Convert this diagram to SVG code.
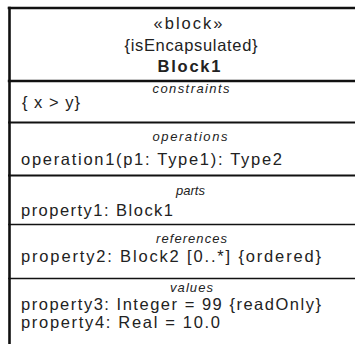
<svg xmlns="http://www.w3.org/2000/svg" width="355" height="344" viewBox="0 0 355 344">
<style>
.frame{stroke:#111;fill:none;stroke-linecap:square}
.t{font-family:"Liberation Sans",Arial,sans-serif;font-size:16.5px;fill:#222}
.hd{text-anchor:middle}
.b{font-weight:bold}
.lbl{font-family:"Liberation Sans",Arial,sans-serif;font-size:13px;font-style:italic;fill:#222;text-anchor:middle}
</style>
<rect width="355" height="344" fill="#fff"/>
<g id="block1">
  <line class="frame" x1="9.5" y1="8" x2="9.5" y2="344" stroke-width="2.6"/>
  <line class="frame" x1="9" y1="8" x2="355" y2="8" stroke-width="2.6"/>
  <line class="frame" x1="9" y1="81" x2="355" y2="81" stroke-width="2.4"/>
  <line class="frame" x1="9" y1="122.5" x2="355" y2="122.5" stroke-width="1.8"/>
  <line class="frame" x1="9" y1="175.5" x2="355" y2="175.5" stroke-width="2"/>
  <line class="frame" x1="9" y1="224.5" x2="355" y2="224.5" stroke-width="1.6"/>
  <line class="frame" x1="9" y1="278.5" x2="355" y2="278.5" stroke-width="1.6"/>
  <g id="header">
    <text class="t hd" x="188" y="29" textLength="69" lengthAdjust="spacing">«block»</text>
    <text class="t hd" x="191" y="51" textLength="133" lengthAdjust="spacing">{isEncapsulated}</text>
    <text class="t hd b" x="189" y="72" textLength="63" lengthAdjust="spacing">Block1</text>
  </g>
  <g id="constraints">
    <text class="lbl" x="191" y="93" textLength="77" lengthAdjust="spacing">constraints</text>
    <text class="t" x="22" y="108" textLength="58" lengthAdjust="spacing">{ x &gt; y}</text>
  </g>
  <g id="operations">
    <text class="lbl" x="190" y="141" textLength="75" lengthAdjust="spacing">operations</text>
    <text class="t" x="21" y="164.5" textLength="261" lengthAdjust="spacing">operation1(p1: Type1): Type2</text>
  </g>
  <g id="parts">
    <text class="lbl" x="190.5" y="195" textLength="29" lengthAdjust="spacing">parts</text>
    <text class="t" x="21" y="216" textLength="152" lengthAdjust="spacing">property1: Block1</text>
  </g>
  <g id="references">
    <text class="lbl" x="191.5" y="242.5" textLength="71" lengthAdjust="spacing">references</text>
    <text class="t" x="21" y="261.5" textLength="300" lengthAdjust="spacing">property2: Block2 [0..*] {ordered}</text>
  </g>
  <g id="values">
    <text class="lbl" x="191.5" y="291.5" textLength="43" lengthAdjust="spacing">values</text>
    <text class="t" x="21" y="310" textLength="300" lengthAdjust="spacing">property3: Integer = 99 {readOnly}</text>
    <text class="t" x="21" y="327.5" textLength="199" lengthAdjust="spacing">property4: Real = 10.0</text>
  </g>
</g>
<g id="connectors"/>
</svg>
